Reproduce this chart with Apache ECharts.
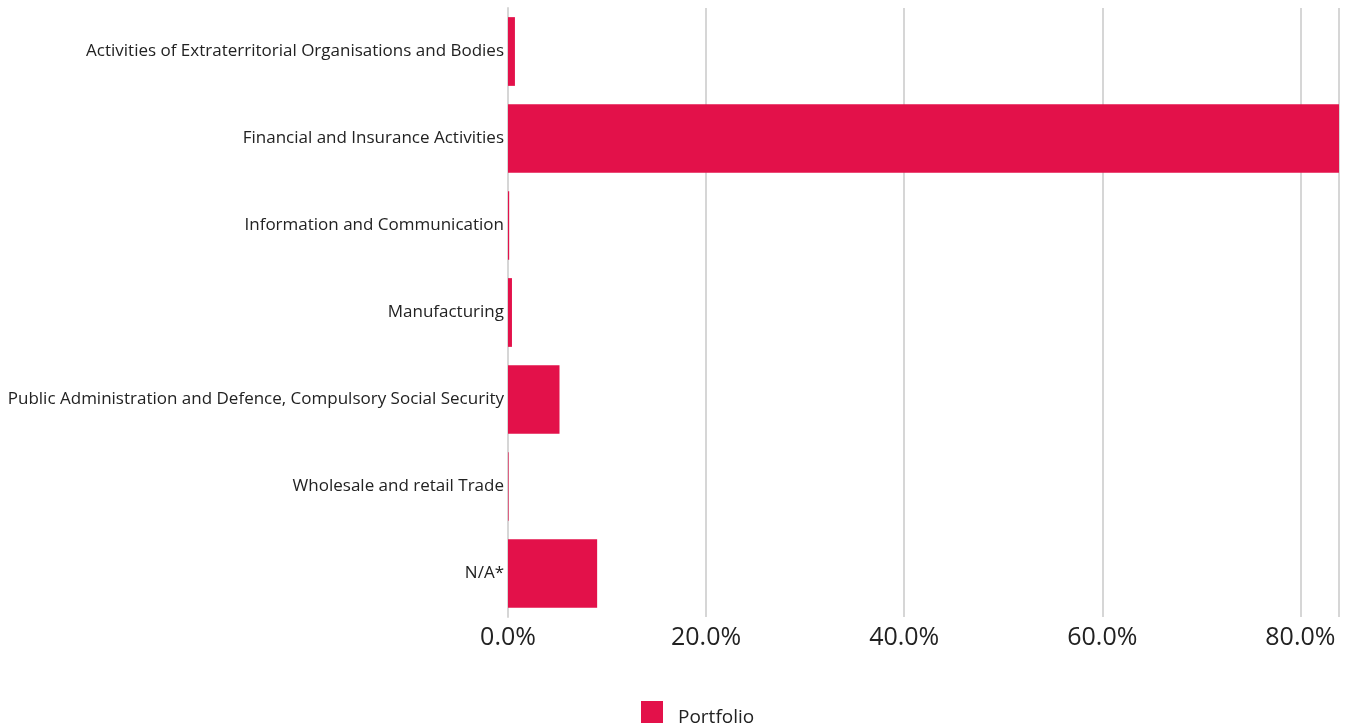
<!DOCTYPE html>
<html>
<head>
<meta charset="utf-8">
<script src="https://cdn.jsdelivr.net/npm/echarts@6/dist/echarts.min.js"></script>
<style>html,body{margin:0;padding:0;background:#fff}#c{width:1345px;height:726px}</style>
</head>
<body>
<div id="c"></div>
<script>
const categories = [
  "Activities of Extraterritorial Organisations and Bodies",
  "Financial and Insurance Activities",
  "Information and Communication",
  "Manufacturing",
  "Public Administration and Defence, Compulsory Social Security",
  "Wholesale and retail Trade",
  "N/A*"
];
const portfolio = [0.7, 83.9, 0.12, 0.4, 5.2, 0.06, 9.0];
const xTicks = [0, 20, 40, 60, 80];
const seriesName = "Portfolio";

const chart = echarts.init(document.getElementById('c'), null, {renderer: 'canvas'});
chart.setOption({
  animation: false,
  grid: {left: 508, right: 6, top: 8, bottom: 109, containLabel: false},
  legend: {
    data: [seriesName],
    left: 641, top: 701, padding: 0,
    itemWidth: 22, itemHeight: 22, itemGap: 10,
    icon: 'rect',
    formatter: n => '{a|' + n + '}',
    textStyle: {
      fontFamily: 'Open Sans', fontSize: 19, color: '#222',
      rich: {a: {fontFamily: 'Open Sans', fontSize: 19, color: '#222', padding: [12, 0, 0, 10]}}
    }
  },
  xAxis: {
    type: 'value', min: 0, max: 'dataMax', interval: 20,
    axisLine: {show: false}, axisTick: {show: false},
    splitLine: {show: true, lineStyle: {color: '#d6d6d6', width: 2}},
    axisLabel: {
      fontFamily: 'Open Sans', fontSize: 25, color: '#222', margin: 8,
      formatter: v => xTicks.includes(v) ? v.toFixed(1) + '%' : ''
    }
  },
  yAxis: {
    type: 'category', data: categories, inverse: true,
    axisLine: {show: true, lineStyle: {color: '#d6d6d6', width: 2}},
    axisTick: {show: false},
    axisLabel: {fontFamily: 'Open Sans', fontSize: 17, color: '#222', margin: 4, padding: [4, 0, 0, 0]}
  },
  series: [{
    name: seriesName, type: 'bar', data: portfolio,
    barCategoryGap: '21%',
    itemStyle: {color: '#e3114a'}
  }]
});
</script>
</body>
</html>
